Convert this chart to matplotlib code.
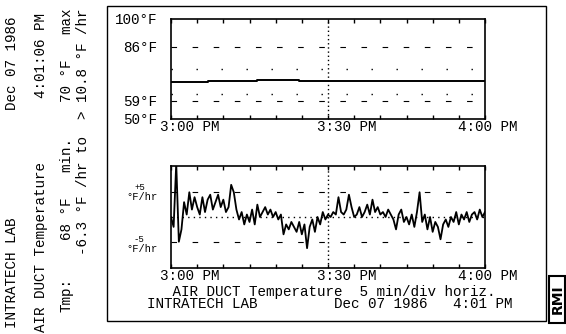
import matplotlib.pyplot as plt, numpy as np
from matplotlib.patches import Rectangle

# temperature trace (deg F), minutes after 3:00 PM, stepwise
temp_min = [0, 7, 16.5, 24.5, 37.5, 55, 60]
temp_F = [68.6, 69.0, 69.6, 69.0, 69.2, 68.8, 68.8]

# rate of change (deg F/hr), one reading every half minute 3:00 -> 4:00
rate_min = np.arange(0, 60.5, 0.5)
rate_Fhr = [0.0, -2.0, 10.8, -5.0, -2.5, 3.0, 0.5, 5.0, 1.5, 4.0,
            2.0, 0.5, 4.0, 1.0, 3.5, 4.5, 1.5, 3.0, 4.5, 2.0,
            3.5, 1.0, 2.0, 6.5, 5.0, 1.5, -0.5, 1.0, -1.5, 0.5,
            -1.0, 1.5, -1.5, 2.5, 0.0, 1.0, 2.0, 0.5, 1.5, 0.0,
            1.0, -0.5, 0.5, -3.5, -1.5, -2.5, -1.0, -2.0, -3.0, -1.0,
            -3.5, -1.5, -6.3, -2.0, -0.5, -3.0, 0.0, -1.5, 1.0, -0.5,
            0.5, 0.0, 1.0, 0.5, 4.0, 1.0, 0.5, 1.5, 4.5, 2.0,
            0.0, 0.5, 2.0, 0.0, 1.0, 2.5, 0.5, 3.5, 1.0, 2.0,
            0.5, 1.0, 0.0, 1.5, 0.5, -0.5, -2.5, 0.5, 1.5, -1.0,
            0.0, -1.5, 0.5, -2.0, 1.0, 5.0, -1.0, 0.5, -2.5, 0.0,
            -3.0, -1.0, -2.0, -4.5, -1.5, -0.5, -2.0, 0.0, -1.0, 1.0,
            -1.5, 0.5, -0.5, 1.0, -1.0, 0.5, 1.0, -0.5, 1.5, 0.0,
            1.0]

temp_ticks = [50, 59, 86, 100]
temp_labels = ["50°F", "59°F", "86°F", "100°F"]
time_labels = ["3:00 PM", "3:30 PM", "4:00 PM"]

MONO = "Liberation Mono"
FS = 10.3
W, H = 566, 334

def fx(px):
    return px / W

def fy(py):
    return 1 - py / H

fig = plt.figure(figsize=(W / 100, H / 100), dpi=100)
fig.patch.set_facecolor("white")

# outer frame of the printout
fig.add_artist(Rectangle((fx(107), fy(321)), (546 - 107) / W, (321 - 6) / H,
                         fill=False, lw=1.0, ec="black", transform=fig.transFigure))

ax1 = fig.add_axes([fx(171), fy(119), (485 - 171) / W, (119 - 19) / H])
ax2 = fig.add_axes([fx(171), fy(268), (485 - 171) / W, (268 - 166) / H])

for ax in (ax1, ax2):
    ax.set_xlim(0, 60)
    ax.set_xticks(range(0, 61, 5))
    ax.set_xticklabels([])
    ax.tick_params(axis="x", direction="in", length=3, width=1, top=True)
    for sp in ax.spines.values():
        sp.set_linewidth(1.2)
    ax.axvline(30, color="black", lw=1, ls=(0, (1, 2)))

# top panel: temperature
ax1.step(temp_min, temp_F, where="post", color="black", lw=1.4)
ax1.set_ylim(50, 100)
ax1.set_yticks(temp_ticks)
ax1.set_yticklabels(temp_labels, family=MONO, fontsize=FS)
ax1.tick_params(axis="y", length=0, pad=10)
for v in (86, 59):
    ax1.axhline(v, color="black", lw=0.8, ls=(0, (5, 14)))
for v in (75, 62.5):
    ax1.axhline(v, color="black", lw=1, ls=(0, (1, 17)))

# bottom panel: rate
ax2.plot(rate_min, rate_Fhr, color="black", lw=1.3)
ax2.set_ylim(-10.3, 10.3)
ax2.set_yticks([])
for v in (5, -5):
    ax2.axhline(v, color="black", lw=0.8, ls=(0, (5, 14)))
ax2.axhline(0, color="black", lw=1, ls=(0, (1, 3)))

fig.text(fx(134), fy(188), "+5", family=MONO, fontsize=6.5, ha="left", va="center")
fig.text(fx(126), fy(197), "°F/hr", family=MONO, fontsize=7.5, ha="left", va="center")
fig.text(fx(134), fy(240), "-5", family=MONO, fontsize=6.5, ha="left", va="center")
fig.text(fx(126), fy(249), "°F/hr", family=MONO, fontsize=7.5, ha="left", va="center")

# time labels under both panels
for left, lab in zip([160, 317, 458], time_labels):
    fig.text(fx(left), fy(127.5), lab, family=MONO, fontsize=FS, ha="left", va="center")
    fig.text(fx(left), fy(275.5), lab, family=MONO, fontsize=FS, ha="left", va="center")

# two-line caption as one block, monospace columns keep the alignment
caption = ("   AIR DUCT Temperature  5 min/div horiz.\n"
           "INTRATECH LAB         Dec 07 1986   4:01 PM")
fig.text(fx(147), fy(298), caption, family=MONO, fontsize=FS, ha="left", va="center",
         linespacing=0.75)

# sideways header block on the left
side = [
    (12, 328, "INTRATECH LAB"),
    (12, 110, "Dec 07 1986"),
    (41, 332, "AIR DUCT Temperature"),
    (41, 98, "4:01:06 PM"),
    (67, 312, "Tmp:"),
    (67, 240, "68 °F   min."),
    (67, 102, "70 °F   max"),
    (83, 255, "-6.3 °F /hr to  > 10.8 °F /hr"),
]
for xc, ys, s in side:
    fig.text(fx(xc), fy(ys), s, family=MONO, fontsize=FS, rotation=90,
             rotation_mode="anchor", ha="left", va="center")

# RMI mark
fig.add_artist(Rectangle((fx(549), fy(323)), 16 / W, 47 / H, fill=False, lw=1.5,
                         ec="black", transform=fig.transFigure))
fig.text(fx(557.5), fy(299.5), "RMI", fontsize=10, fontweight="bold", rotation=90,
         ha="center", va="center")

fig.savefig("out.png", dpi=100)
